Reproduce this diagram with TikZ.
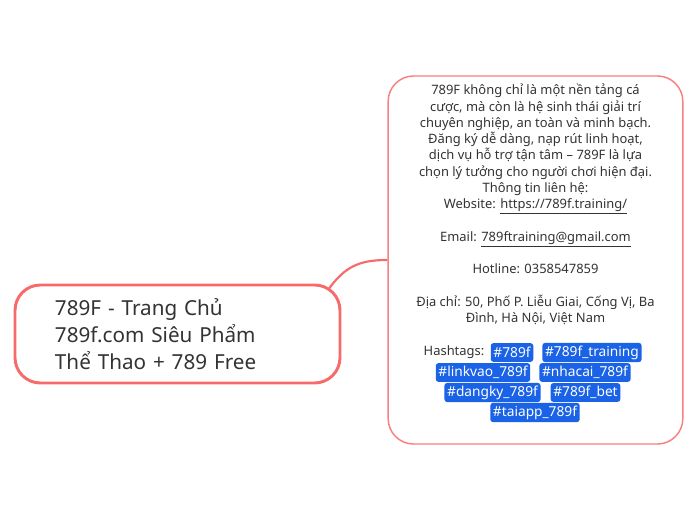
\documentclass[tikz,border=0pt]{standalone}
\usepackage{fontspec}
\setmainfont{Noto Sans}
\usetikzlibrary{positioning}
\definecolor{coral}{HTML}{F76A6A}
\definecolor{tagblue}{HTML}{1A62E6}
\definecolor{ink}{HTML}{333333}
\begin{document}
\begin{tikzpicture}[x=0.75pt,y=-0.75pt]
		\tikzset{topic/.style = {draw=coral,line width=2.2pt,rounded corners=19pt,
			minimum width=243.75pt,minimum height=73.5pt,text width=183.75pt,
			align=left,text=ink,font=\fontsize{15.5}{20}\selectfont}}
		\tikzset{panel/.style = {draw=coral!85,line width=1.1pt,rounded corners=19pt,
			minimum width=221pt,minimum height=276pt}}
		\tikzset{body/.style = {align=center,text=ink,inner sep=0pt,
			font=\fontsize{9.7}{12.2}\selectfont}}
		\tikzset{tag/.style = {fill=tagblue,text=white,rounded corners=2pt,inner sep=2pt,
			minimum height=14pt,font=\fontsize{10.3}{11}\selectfont}}
		\tikzset{link/.style = {draw=coral,line width=1.6pt}}
		\useasboundingbox[fill=white] (0,0) rectangle (697,520);
		% boxes
		\node[topic] (main) at (177.5,334) {789F - Trang Chủ\\789f.com Siêu Phẩm\\Thể Thao + 789 Free};
		\node[panel] (info) at (535.5,260) {};
		% texts
		\node[body,anchor=north] (about) at (535.5,84) {789F không chỉ là một nền tảng cá\\
			cược, mà còn là hệ sinh thái giải trí\\
			chuyên nghiệp, an toàn và minh bạch.\\
			Đăng ký dễ dàng, nạp rút linh hoạt,\\
			dịch vụ hỗ trợ tận tâm – 789F là lựa\\
			chọn lý tưởng cho người chơi hiện đại.\\
			Thông tin liên hệ:\\
			Website: \underline{https://789f.training/}\\[12.2pt]
			Email: \underline{789ftraining@gmail.com}\\[12.2pt]
			Hotline: 0358547859\\[12.2pt]
			Địa chỉ: 50, Phố P. Liễu Giai, Cống Vị, Ba\\
			Đình, Hà Nội, Việt Nam};
		\node[body] (hash) at (454,352.5) {Hashtags:};
		% hashtags
		\node[tag] (t1) at (512,352.5) {\#789f};
		\node[tag] (t2) at (592,352.5) {\#789f\_training};
		\node[tag] (t3) at (483,372.5) {\#linkvao\_789f};
		\node[tag] (t4) at (585,372.5) {\#nhacai\_789f};
		\node[tag] (t5) at (492.5,392.5) {\#dangky\_789f};
		\node[tag] (t6) at (585.5,392.5) {\#789f\_bet};
		\node[tag] (t7) at (535,412.5) {\#taiapp\_789f};
		% edges
		\coordinate (knee) at (328,290);
		\draw[link] (knee) .. controls (345,266) and (360,260) .. (info.west);
\end{tikzpicture}
\end{document}
